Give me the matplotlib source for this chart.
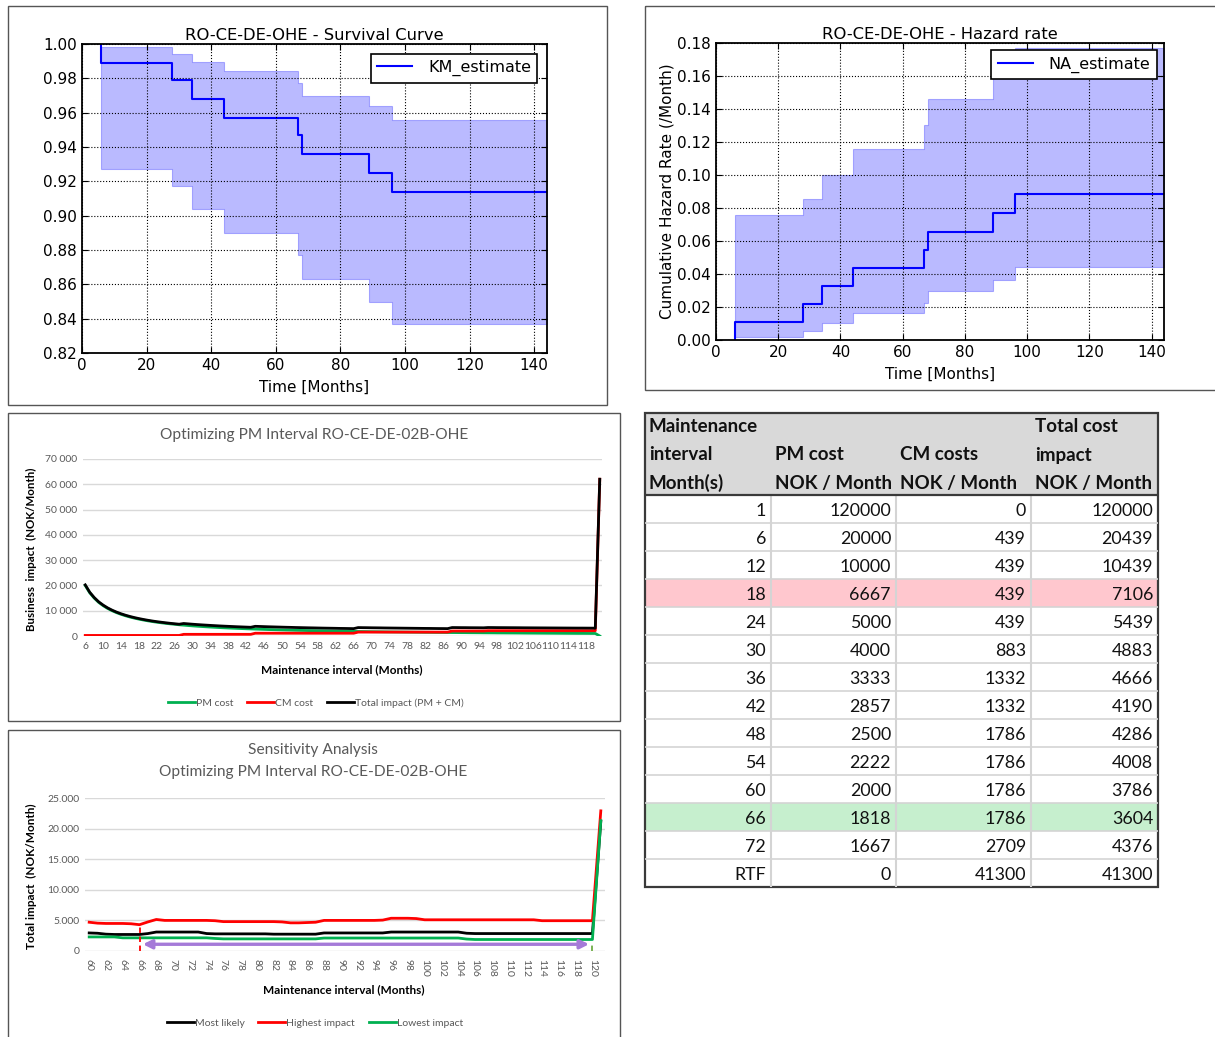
import numpy as np
import matplotlib
matplotlib.use('Agg')
import matplotlib.pyplot as plt
from matplotlib.patches import Rectangle
from matplotlib.ticker import FuncFormatter

W, H = 1215, 1037

# Kaplan-Meier survival estimate with confidence band
km_t = [6, 6, 28, 34, 44, 67, 68, 89, 96, 144]
km_s = [1.0, 0.989, 0.979, 0.968, 0.957, 0.947, 0.936, 0.925, 0.914, 0.914]
ci_t = [6, 28, 34, 44, 67, 68, 89, 96, 144]
km_hi = [0.998, 0.994, 0.9895, 0.984, 0.977, 0.970, 0.964, 0.956, 0.956]
km_lo = [0.927, 0.917, 0.904, 0.890, 0.877, 0.863, 0.850, 0.837, 0.837]

# Nelson-Aalen cumulative hazard with confidence band
na_t = [6, 6, 28, 34, 44, 67, 68, 89, 96, 144]
na_h = [0.0, 0.0109, 0.0218, 0.0326, 0.0435, 0.0546, 0.0657, 0.0772, 0.0885, 0.0885]
na_hi = [0.0756, 0.0855, 0.1002, 0.1155, 0.1304, 0.1461, 0.1618, 0.1770, 0.1770]
na_lo = [0.0018, 0.0056, 0.0105, 0.0163, 0.0227, 0.0296, 0.0362, 0.0442, 0.0442]

# PM interval optimisation, months 6..121
months = list(range(6, 122))
pm_cost = [20000, 17100, 15000, 13300, 12000, 10900, 10000, 9230, 8570, 8000,
           7500, 7060, 6670, 6320, 6000, 5710, 5450, 5220, 5000, 4800,
           4620, 4440, 4290, 4140, 4000, 3870, 3750, 3640, 3530, 3430,
           3330, 3240, 3160, 3080, 3000, 2930, 2860, 2790, 2730, 2670,
           2610, 2550, 2500, 2450, 2400, 2350, 2310, 2260, 2220, 2180,
           2140, 2110, 2070, 2030, 2000, 1970, 1940, 1900, 1880, 1850,
           1820, 1790, 1760, 1740, 1710, 1690, 1670, 1640, 1620, 1600,
           1580, 1560, 1540, 1520, 1500, 1480, 1460, 1450, 1430, 1410,
           1400, 1380, 1360, 1350, 1330, 1320, 1300, 1290, 1280, 1260,
           1250, 1240, 1220, 1210, 1200, 1190, 1180, 1170, 1150, 1140,
           1130, 1120, 1110, 1100, 1090, 1080, 1070, 1060, 1050, 1040,
           1030, 1030, 1020, 1010, 1000, 0]
cm_cost = [220, 220, 220, 220, 220, 220, 220, 220, 220, 220,
           220, 220, 220, 220, 220, 220, 220, 220, 220, 220,
           220, 220, 660, 660, 660, 660, 660, 660, 660, 660,
           660, 660, 660, 660, 660, 660, 660, 660, 1100, 1100,
           1100, 1100, 1100, 1100, 1100, 1100, 1100, 1100, 1100, 1100,
           1100, 1100, 1100, 1100, 1100, 1100, 1100, 1100, 1100, 1100,
           1100, 1540, 1540, 1540, 1540, 1540, 1540, 1540, 1540, 1540,
           1540, 1540, 1540, 1540, 1540, 1540, 1540, 1540, 1540, 1540,
           1540, 1540, 1980, 1980, 1980, 1980, 1980, 1980, 1980, 1980,
           2100, 2100, 2100, 2100, 2100, 2100, 2100, 2100, 2100, 2100,
           2100, 2100, 2100, 2100, 2100, 2100, 2100, 2100, 2100, 2100,
           2100, 2100, 2100, 2100, 2100, 62000]
total_cost = [p + c for p, c in zip(pm_cost, cm_cost)]

# sensitivity analysis, months 60..121
sens_months = list(range(60, 122))
most_likely = [2950, 2900, 2750, 2700, 2700, 2700, 2700, 2850, 3100, 3100,
               3100, 3100, 3100, 3100, 2850, 2800, 2800, 2800, 2800, 2800,
               2800, 2800, 2750, 2750, 2750, 2750, 2750, 2750, 2950, 2950,
               2950, 2950, 2950, 2950, 2950, 2950, 3100, 3100, 3100, 3100,
               3100, 3100, 3100, 3100, 3100, 2900, 2850, 2850, 2850, 2850,
               2850, 2850, 2850, 2850, 2850, 2850, 2850, 2850, 2850, 2850,
               2850, 21200]
highest = [4700, 4550, 4500, 4500, 4500, 4450, 4300, 4750, 5150, 5000,
           5000, 5000, 5000, 5000, 5000, 4950, 4800, 4800, 4800, 4800,
           4800, 4800, 4800, 4750, 4600, 4600, 4650, 4700, 5000, 5000,
           5000, 5000, 5000, 5000, 5000, 5050, 5350, 5350, 5350, 5300,
           5100, 5100, 5100, 5100, 5100, 5100, 5100, 5100, 5100, 5100,
           5100, 5100, 5100, 5100, 4950, 4950, 4950, 4950, 4950, 4950,
           4950, 22900]
lowest = [2300, 2300, 2300, 2300, 2150, 2150, 2150, 2150, 2150, 2150,
          2150, 2150, 2150, 2150, 2150, 2050, 1980, 1980, 1980, 1980,
          1980, 1980, 1980, 1980, 1980, 1980, 1980, 1980, 2120, 2120,
          2120, 2120, 2120, 2120, 2120, 2120, 2120, 2120, 2120, 2120,
          2120, 2120, 2120, 2120, 2120, 1950, 1880, 1880, 1880, 1880,
          1880, 1880, 1880, 1880, 1880, 1880, 1880, 1880, 1880, 1880,
          1880, 21300]
opt_from, opt_to = 66, 120

# cost table
tbl_interval = ['1', '6', '12', '18', '24', '30', '36', '42', '48', '54', '60', '66', '72', 'RTF']
tbl_pm = [120000, 20000, 10000, 6667, 5000, 4000, 3333, 2857, 2500, 2222, 2000, 1818, 1667, 0]
tbl_cm = [0, 439, 439, 439, 439, 883, 1332, 1332, 1786, 1786, 1786, 1786, 2709, 41300]
tbl_total = [120000, 20439, 10439, 7106, 5439, 4883, 4666, 4190, 4286, 4008, 3786, 3604, 4376, 41300]
tbl_header = [['Maintenance', 'interval', 'Month(s)'],
              ['', 'PM cost', 'NOK / Month'],
              ['', 'CM costs', 'NOK / Month'],
              ['Total cost', 'impact', 'NOK / Month']]
row_fill = {'18': '#ffc7ce', '66': '#c6efce'}

XL_FONT = ['Lato', 'DejaVu Sans']
GREY = '#595959'

fig = plt.figure(figsize=(W / 100, H / 100), dpi=100)
fig.patch.set_facecolor('white')


def px_axes(l, t, r, b, **kw):
    return fig.add_axes([l / W, 1 - b / H, (r - l) / W, (b - t) / H], **kw)


def px_text(x, y, s, **kw):
    return fig.text(x / W, 1 - y / H, s, **kw)


# panel frames
bg = px_axes(0, 0, W, H, zorder=-5)
bg.set_xlim(0, W)
bg.set_ylim(H, 0)
bg.axis('off')
for (l, t, r, b) in [(8, 6, 607, 405), (645, 6, 1220, 390),
                     (8, 413, 620, 721), (8, 730, 620, 1045)]:
    bg.add_patch(Rectangle((l, t), r - l, b - t, fill=False, ec='#555555', lw=1.0))


def classic_axes(ax):
    ax.grid(True, color='k', ls=':', lw=0.8)
    ax.set_axisbelow(False)
    ax.tick_params(direction='in', top=True, right=True, labelsize=11, length=4, width=0.8)
    for s in ax.spines.values():
        s.set_linewidth(1.3)


# survival curve
ax1 = px_axes(82, 44, 547, 353)
ax1.fill_between(ci_t, km_lo, km_hi, step='post', color='#0000ff', alpha=0.27, lw=0.8)
ax1.step(km_t, km_s, where='post', color='#0000ff', lw=1.5, label='KM_estimate')
ax1.set_xlim(0, 144)
ax1.set_ylim(0.82, 1.0)
ax1.set_xticks(range(0, 141, 20))
ax1.set_yticks(np.arange(0.82, 1.001, 0.02))
ax1.yaxis.set_major_formatter(FuncFormatter(lambda v, p: f'{v:.2f}'))
classic_axes(ax1)
ax1.set_title('RO-CE-DE-OHE - Survival Curve', fontsize=11.8, pad=3)
ax1.set_xlabel('Time [Months]', fontsize=11, labelpad=5)
lg = ax1.legend(loc='upper right', fancybox=False, edgecolor='k', framealpha=1,
                fontsize=11.5, handlelength=2.2, handletextpad=1.0, borderaxespad=0.6)
lg.get_frame().set_linewidth(1.2)

# hazard rate
ax2 = px_axes(716, 43, 1164, 340)
ax2.fill_between(ci_t, na_lo, na_hi, step='post', color='#0000ff', alpha=0.27, lw=0.8)
ax2.step(na_t, na_h, where='post', color='#0000ff', lw=1.5, label='NA_estimate')
ax2.set_xlim(0, 144)
ax2.set_ylim(0, 0.18)
ax2.set_xticks(range(0, 141, 20))
ax2.set_yticks(np.arange(0, 0.181, 0.02))
ax2.yaxis.set_major_formatter(FuncFormatter(lambda v, p: f'{v:.2f}'))
classic_axes(ax2)
ax2.set_title('RO-CE-DE-OHE - Hazard rate', fontsize=11.8, pad=3)
ax2.set_xlabel('Time [Months]', fontsize=11, labelpad=5)
ax2.set_ylabel('Cumulative Hazard Rate (/Month)', fontsize=11, labelpad=2)
lg = ax2.legend(loc='upper right', fancybox=False, edgecolor='k', framealpha=1,
                fontsize=11.5, handlelength=2.2, handletextpad=1.0, borderaxespad=0.45)
lg.get_frame().set_linewidth(1.2)


def excel_axes(ax):
    for s in ax.spines.values():
        s.set_visible(False)
    ax.grid(True, axis='y', color='#d9d9d9', lw=1.0)
    ax.set_axisbelow(True)
    ax.tick_params(length=0, labelsize=7.5, labelcolor=GREY, pad=4)
    for lab in ax.get_xticklabels() + ax.get_yticklabels():
        lab.set_family(XL_FONT)


LEG_KW = dict(loc='center', ncol=3, frameon=False, handlelength=2.6, handletextpad=0.1,
              columnspacing=1.3, prop={'family': XL_FONT, 'size': 7.5}, labelcolor=GREY)

# PM interval optimisation
ax3 = px_axes(83, 459, 602, 636)
ax3.plot(months, pm_cost, color='#00b050', lw=2.0, label='PM cost')
ax3.plot(months, cm_cost, color='#ff0000', lw=2.0, label='CM cost')
ax3.plot(months, total_cost, color='#000000', lw=2.0, label='Total impact (PM + CM)')
ax3.set_xlim(5.5, 121.5)
ax3.set_ylim(0, 70000)
ax3.set_yticks(range(0, 70001, 10000))
ax3.yaxis.set_major_formatter(FuncFormatter(lambda v, p: f'{v:,.0f}'.replace(',', ' ')))
ax3.set_xticks(months[::4])
excel_axes(ax3)
px_text(314, 435, 'Optimizing PM Interval RO-CE-DE-02B-OHE', ha='center', va='center',
        fontsize=11.2, color=GREY, family=XL_FONT)
px_text(342, 670, 'Maintenance interval (Months)', ha='center', va='center',
        fontsize=8.5, fontweight='bold', family=XL_FONT)
px_text(31, 549, 'Business  impact  (NOK/Month)', ha='center', va='center', rotation=90,
        fontsize=8.3, fontweight='bold', family=XL_FONT)
fig.legend(*ax3.get_legend_handles_labels(), bbox_to_anchor=(316 / W, 1 - 703 / H), **LEG_KW)

# sensitivity analysis
ax4 = px_axes(85, 798, 605, 951)
ax4.plot(sens_months, most_likely, color='#000000', lw=2.0, label='Most likely')
ax4.plot(sens_months, highest, color='#ff0000', lw=2.0, label='Highest impact')
ax4.plot(sens_months, lowest, color='#00b050', lw=2.0, label='Lowest impact')
i_from = sens_months.index(opt_from)
i_to = sens_months.index(opt_to)
ax4.plot([opt_from, opt_from], [0, highest[i_from]], color='#ff0000', lw=1.3, ls=(0, (3, 2)))
ax4.plot([opt_to, opt_to], [0, lowest[i_to] * 0.7], color='#70ad47', lw=1.3, ls=(0, (3, 2)))
ax4.annotate('', xy=(opt_to - 0.4, 1100), xytext=(opt_from + 0.4, 1100),
             arrowprops=dict(arrowstyle='<|-|>', color='#a57ad8', lw=2.4,
                             mutation_scale=13, shrinkA=0, shrinkB=0))
ax4.set_xlim(59.5, 121.5)
ax4.set_ylim(0, 25000)
ax4.set_yticks(range(0, 25001, 5000))
ax4.yaxis.set_major_formatter(FuncFormatter(lambda v, p: f'{v:,.0f}'.replace(',', '.')))
ax4.set_xticks(sens_months[:-1:2])
excel_axes(ax4)
ax4.tick_params(axis='x', labelrotation=-90, pad=6)
px_text(313, 750, 'Sensitivity Analysis', ha='center', va='center',
        fontsize=11.2, color=GREY, family=XL_FONT)
px_text(313, 772, 'Optimizing PM Interval RO-CE-DE-02B-OHE', ha='center', va='center',
        fontsize=11.2, color=GREY, family=XL_FONT)
px_text(344, 990, 'Maintenance interval (Months)', ha='center', va='center',
        fontsize=8.5, fontweight='bold', family=XL_FONT)
px_text(31, 876, 'Total impact  (NOK/Month)', ha='center', va='center', rotation=90,
        fontsize=8.5, fontweight='bold', family=XL_FONT)
fig.legend(*ax4.get_legend_handles_labels(), bbox_to_anchor=(315 / W, 1 - 1023 / H), **LEG_KW)

# cost table
axt = px_axes(645, 413, 1158, 887)
tw, th = 513, 474
axt.set_xlim(0, tw)
axt.set_ylim(th, 0)
axt.axis('off')
col_x = [0, 126, 251, 386, 513]
head_h = 82
row_h = (th - head_h) / len(tbl_interval)

axt.add_patch(Rectangle((0, 0), tw, head_h, color='#d9d9d9', lw=0))
for c, lines in enumerate(tbl_header):
    for k, s in enumerate(lines):
        axt.text(col_x[c] + 4, 14 + 28 * k, s, ha='left', va='center', fontsize=13.5,
                 fontweight='bold', family=XL_FONT, color='#111111')

for r, lab in enumerate(tbl_interval):
    y0 = head_h + r * row_h
    if lab in row_fill:
        axt.add_patch(Rectangle((0, y0), tw, row_h, color=row_fill[lab], lw=0))
    vals = [lab, str(tbl_pm[r]), str(tbl_cm[r]), str(tbl_total[r])]
    for c, s in enumerate(vals):
        axt.text(col_x[c + 1] - 5, y0 + row_h / 2 + 2, s, ha='right', va='center',
                 fontsize=12.8, family=XL_FONT, color='#111111')
    if r > 0:
        axt.plot([0, tw], [y0, y0], color='#d4d4d4', lw=1.2)
for x in col_x[1:-1]:
    axt.plot([x, x], [head_h, th], color='#d4d4d4', lw=1.5)
axt.plot([0, tw], [head_h, head_h], color='#3a3a3a', lw=1.6)
axt.add_patch(Rectangle((0, 0), tw, th, fill=False, ec='#3a3a3a', lw=1.6, clip_on=False))

fig.savefig('out.png', dpi=100)
